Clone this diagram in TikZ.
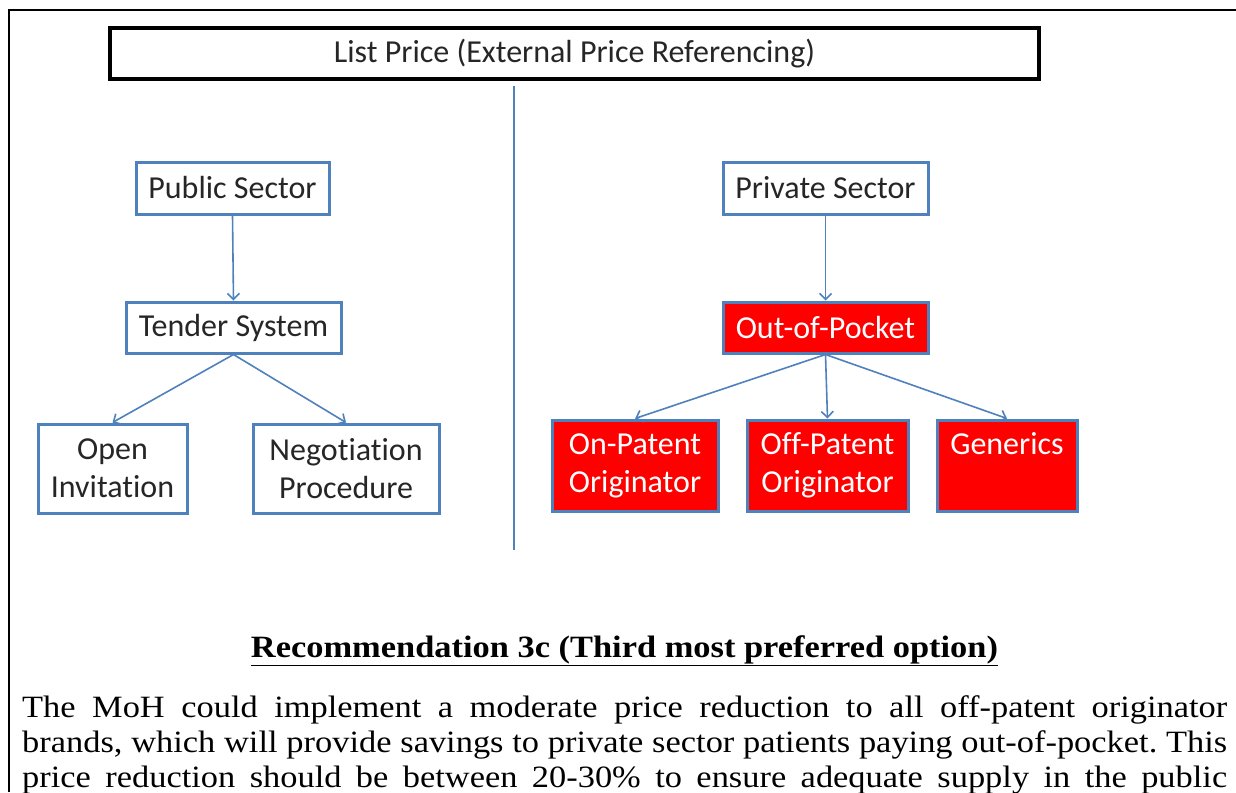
\documentclass[tikz,border=0pt]{standalone}
\usepackage{fontspec}
\setmainfont[FakeStretch=1.11]{Liberation Serif}
\newfontfamily\calfont[Ligatures=NoCommon]{Carlito}
\usetikzlibrary{arrows.meta}
\definecolor{bl}{HTML}{4F81BD}
\definecolor{rd}{HTML}{FF0000}
\begin{document}
\frenchspacing
\begin{tikzpicture}[x=1pt,y=-1pt,
  diafont/.style={font=\calfont\fontsize{32}{38}\selectfont},
  wbox/.style={draw=bl,line width=3pt,fill=white,diafont,align=center,inner sep=0pt,text=black!85},
  rbox/.style={wbox,fill=rd,text=white},
  conn/.style={draw=bl,line width=1.6pt,-{Straight Barb[length=6pt,width=12pt,line width=1.6pt]}},
  bodyline/.style={anchor=base west,inner sep=0pt,font=\fontsize{31}{35}\selectfont}]
\useasboundingbox (0,0) rectangle (1236,792);
\fill[white] (0,0) rectangle (1236,792);
% outer frame
\coordinate (ftl) at (9,10);
\coordinate (fbl) at (9,792);
\coordinate (ftm) at (1093,10);
\coordinate (ftr) at (1236,10);
\draw[line width=1.5pt] (fbl) -- (ftl) -- (ftm);
\draw[line width=2.5pt] (ftm) -- (ftr);
% title box
\node[draw=black,line width=3.5pt,minimum width=929pt,minimum height=51pt,inner sep=0pt,diafont,text=black!85] (list) at (574.5,53.5) {List Price (External Price Referencing)};
% divider
\coordinate (dtop) at (514,86);
\coordinate (dbot) at (514,550);
\draw[bl,line width=1.5pt] (dtop) -- (dbot);
% public side
\node[wbox,minimum width=193pt,minimum height=52pt] (pub) at (232.5,188) {Public Sector};
\node[wbox,minimum width=215pt,minimum height=51pt] (ten) at (233.5,327.5) {Tender System};
\node[wbox,minimum width=149pt,minimum height=89pt] (open) at (112.5,468.5) {Open\\Invitation};
\node[wbox,minimum width=186pt,minimum height=89pt] (neg) at (346,468.5) {Negotiation\\Procedure};
\draw[conn] (pub.south) -- (ten.north);
\draw[conn] (ten.south) -- (open.north);
\draw[conn] (ten.south) -- (neg.north);
% private side
\node[wbox,minimum width=205pt,minimum height=52pt] (priv) at (825.5,188) {Private Sector};
\node[rbox,minimum width=205pt,minimum height=51pt] (oop) at (825.5,327.5) {Out-of-Pocket};
\node[rbox,minimum width=166pt,minimum height=91pt] (onp) at (635,465.5) {On-Patent\\Originator};
\node[rbox,minimum width=161pt,minimum height=91pt] (offp) at (827.5,465.5) {Off-Patent\\Originator};
\node[rbox,minimum width=140pt,minimum height=91pt] (gen) at (1007,465.5) {Generics\\\phantom{Og}};
\draw[conn] (priv.south) -- (oop.north);
\draw[conn] (oop.south) -- (onp.north);
\draw[conn] (oop.south) -- (offp.north);
\draw[conn] (oop.south) -- (gen.north);
% text
\node[anchor=base,inner sep=0pt,font=\bfseries\fontsize{31}{35}\selectfont] (head) at (624.5,657) {\underline{Recommendation 3c (Third most preferred option)}};
\node[bodyline] (l1) at (22,717) {\makebox[1205pt][s]{The MoH could implement a moderate price reduction to all off-patent originator}};
\node[bodyline] (l2) at (22,752) {\makebox[1205pt][s]{brands, which will provide savings to private sector patients paying out-of-pocket. This}};
\node[bodyline] (l3) at (22,787) {\makebox[1205pt][s]{price reduction should be between 20-30\% to ensure adequate supply in the public}};
\end{tikzpicture}
\end{document}
